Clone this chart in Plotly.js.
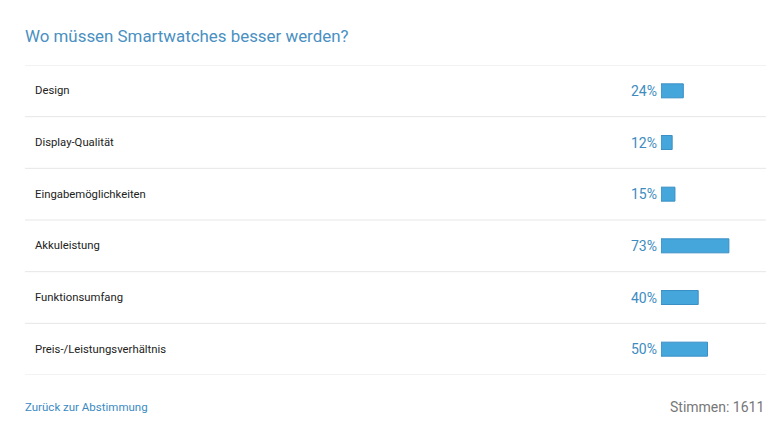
<!DOCTYPE html>
<html><head><meta charset="utf-8">
<script src="https://cdn.plot.ly/plotly-3.0.1.min.js"></script>
<style>html,body{margin:0;padding:0;background:#fff}#c{width:782px;height:440px}</style>
</head><body><div id="c"></div>
<script>
const categories = ["Design","Display-Qualität","Eingabemöglichkeiten","Akkuleistung","Funktionsumfang","Preis-/Leistungsverhältnis"];
const percentages = [24,12,15,73,40,50];
const titleText = "Wo müssen Smartwatches besser werden?";
const backLink = "Zurück zur Abstimmung";
const votesText = "Stimmen: 1611";

const W = 782, H = 440;
const rowTop = 65, rowBottom = 375;
const n = categories.length;
const rowH = (rowBottom - rowTop) / n;

const shapes = [];
for (let i = 0; i <= n; i++) {
  shapes.push({type:'line', xref:'paper', yref:'y', x0:25/W, x1:766/W, y0:i-0.5, y1:i-0.5,
    line:{color:'#e6e6e6', width:1}});
}
const annotations = [];
categories.forEach((c,i)=>{
  annotations.push({xref:'paper', yref:'y', x:35/W, y:i, text:c, showarrow:false, xanchor:'left', yanchor:'middle', xshift:-2,
    font:{family:'Roboto, Arial', size:11.3, color:'#222'}});
  annotations.push({xref:'x', yref:'y', x:0, y:i, text:percentages[i]+'%', showarrow:false, xanchor:'right', yanchor:'middle', xshift:-2,
    font:{family:'Roboto, Arial', size:14, color:'#3d8cc0'}});
});
annotations.push({xref:'paper', yref:'paper', x:25/W, y:1-36/H, text:titleText, showarrow:false, xanchor:'left', yanchor:'middle', xshift:-2,
  font:{family:'Roboto, Arial', size:16.9, color:'#4a90c2'}});
annotations.push({xref:'paper', yref:'paper', x:25/W, y:1-407/H, text:backLink, showarrow:false, xanchor:'left', yanchor:'middle', xshift:-2,
  font:{family:'Roboto, Arial', size:11.5, color:'#3a8ac2'}});
annotations.push({xref:'paper', yref:'paper', x:766/W, y:1-407/H, text:votesText, showarrow:false, xanchor:'right', yanchor:'middle', xshift:0,
  font:{family:'Roboto, Arial', size:14, color:'#777'}});

const trace = {type:'bar', orientation:'h', x:percentages, y:categories.map((c,i)=>i), width:14/rowH,
  marker:{color:'#45a6dc', line:{color:'#3a8fc4', width:1}}, hoverinfo:'skip'};

const layout = {
  width:W, height:H, margin:{l:0,r:0,t:0,b:0}, paper_bgcolor:'#fff', plot_bgcolor:'rgba(0,0,0,0)',
  showlegend:false,
  xaxis:{domain:[661/W, 754/W], range:[0,100], visible:false, fixedrange:true},
  yaxis:{domain:[1-rowBottom/H, 1-rowTop/H], range:[n-0.5,-0.5], visible:false, fixedrange:true},
  shapes:shapes, annotations:annotations
};
Plotly.newPlot('c',[trace],layout,{displayModeBar:false,staticPlot:true});
</script></body></html>
